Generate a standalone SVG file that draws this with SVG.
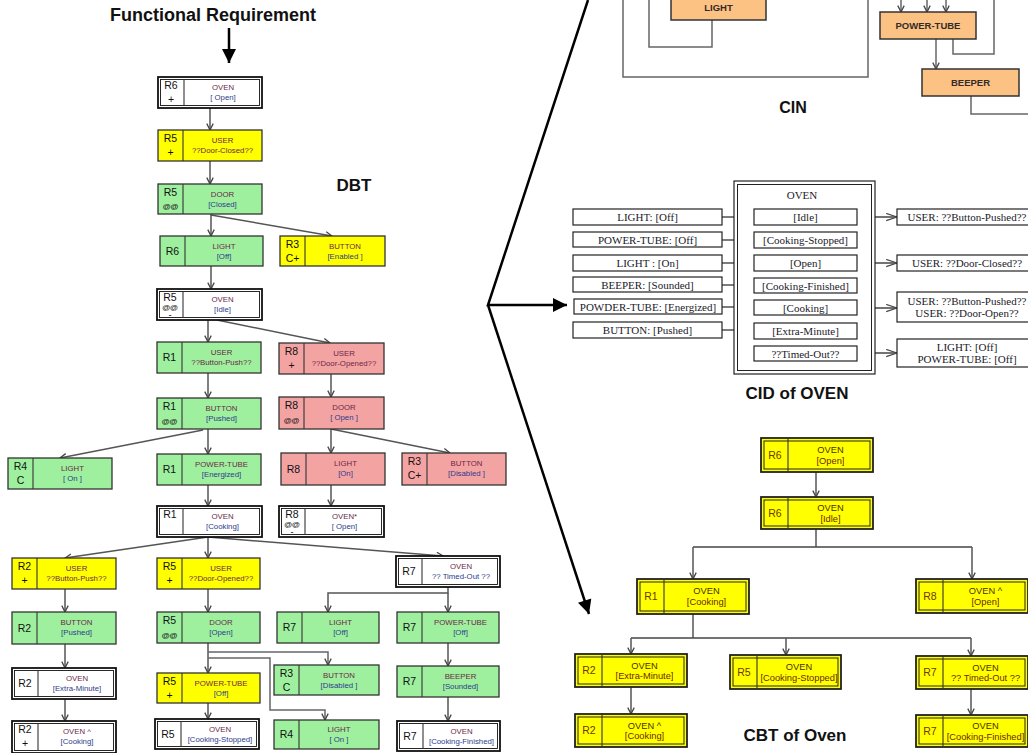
<svg xmlns="http://www.w3.org/2000/svg" width="1028" height="753" viewBox="0 0 1028 753">
<style>
.g{fill:#9ef09e;stroke:#333;stroke-width:1.3}
.y{fill:#ffff00;stroke:#333;stroke-width:1.3}
.p{fill:#f4a3a3;stroke:#333;stroke-width:1.3}
.wo{fill:#fff;stroke:#111;stroke-width:1.8}
.wi{fill:none;stroke:#111;stroke-width:0.9}
.dv{stroke:#333;stroke-width:1.1}
.r{font-family:"Liberation Sans",Arial,sans-serif;font-size:10.5px;fill:#111;text-anchor:middle}
.r2{font-family:"Liberation Sans",Arial,sans-serif;font-size:8px;font-weight:bold;fill:#222;text-anchor:middle}
.n{font-family:"Liberation Sans",Arial,sans-serif;font-size:7.8px;fill:#6a2848;text-anchor:middle}
.s{font-family:"Liberation Sans",Arial,sans-serif;font-size:7.8px;fill:#2c3c8c;text-anchor:middle}
.cy{fill:#ffff00;stroke:#222;stroke-width:1.8}
.ci{fill:none;stroke:#222;stroke-width:1}
.cn{font-family:"Liberation Sans",Arial,sans-serif;font-size:9.3px;fill:#4a3000;text-anchor:middle}
.cs{font-family:"Liberation Sans",Arial,sans-serif;font-size:9.3px;fill:#6a2a00;text-anchor:middle}
.cr{font-family:"Liberation Sans",Arial,sans-serif;font-size:10.5px;fill:#6a3a00;text-anchor:middle}
.o{fill:#fcc283;stroke:#333;stroke-width:1.5}
.ot{font-family:"Liberation Sans",Arial,sans-serif;font-size:9.5px;font-weight:bold;fill:#332a2a;text-anchor:middle}
.cb{fill:#fff;stroke:#222;stroke-width:1.2}
.ct{font-family:"Liberation Serif","Times New Roman",serif;font-size:11px;fill:#1a1a2a;text-anchor:middle}
.ttl{font-family:"Liberation Sans",Arial,sans-serif;font-weight:bold;fill:#111;text-anchor:middle}
.ln{stroke:#555;stroke-width:1.5;fill:none}
.lc{stroke:#444;stroke-width:1.4;fill:none}
.lg{stroke:#666;stroke-width:1.5;fill:none}
.big{stroke:#000;stroke-width:2.5;fill:none}
</style>
<defs>
<marker id="ah" viewBox="0 0 10 10" refX="9" refY="5" markerWidth="8" markerHeight="8" markerUnits="userSpaceOnUse" orient="auto"><path d="M1,1 L9,5 L1,9" fill="none" stroke="#444" stroke-width="1.6"/></marker>
<marker id="ahc" viewBox="0 0 14 10" refX="13" refY="5" markerWidth="13" markerHeight="9" markerUnits="userSpaceOnUse" orient="auto"><path d="M1,1 L13,5 L1,9" fill="none" stroke="#444" stroke-width="1.3"/></marker>
<marker id="ahb" viewBox="0 0 10 10" refX="10" refY="5" markerWidth="16" markerHeight="14" markerUnits="userSpaceOnUse" orient="auto"><path d="M0,0 L10,5 L0,10 Z" fill="#000"/></marker>
</defs>
<rect width="1028" height="753" fill="#fff"/>

<!-- Titles -->
<text class="ttl" x="213" y="21" font-size="18">Functional Requirement</text>
<text class="ttl" x="354" y="191" font-size="17">DBT</text>
<text class="ttl" x="793" y="113" font-size="16">CIN</text>
<text class="ttl" x="797" y="399" font-size="17">CID of OVEN</text>
<text class="ttl" x="795" y="741" font-size="17">CBT of Oven</text>

<!-- Connectors -->
<g id="connectors">
<line x1="229" y1="28" x2="229" y2="63" stroke="#000" stroke-width="2.5" marker-end="url(#ahb)"/>
<path class="big" d="M588,0 L488,305 L567,305" marker-end="url(#ahb)"/>
<path class="big" d="M488,305 L589,614" marker-end="url(#ahb)"/>

<!-- DBT -->
<path class="ln" d="M210,108 V130" marker-end="url(#ah)"/>
<path class="ln" d="M210,161 V184" marker-end="url(#ah)"/>
<path class="ln" d="M211,214 V236" marker-end="url(#ah)"/>
<path class="ln" d="M211,215 L332,236" marker-end="url(#ah)"/>
<path class="ln" d="M211,266 V289" marker-end="url(#ah)"/>
<path class="ln" d="M208,320 V342" marker-end="url(#ah)"/>
<path class="ln" d="M217,320 L330,343" marker-end="url(#ah)"/>
<path class="ln" d="M208,373 V398" marker-end="url(#ah)"/>
<path class="ln" d="M208,429 V454" marker-end="url(#ah)"/>
<path class="ln" d="M203,430 L60,458" marker-end="url(#ah)"/>
<path class="ln" d="M208,485 V506" marker-end="url(#ah)"/>
<path class="ln" d="M331,374 V397" marker-end="url(#ah)"/>
<path class="ln" d="M331,429 V453" marker-end="url(#ah)"/>
<path class="ln" d="M331,429 L450,453" marker-end="url(#ah)"/>
<path class="ln" d="M331,485 V506" marker-end="url(#ah)"/>
<path class="ln" d="M208,537 L65,558" marker-end="url(#ah)"/>
<path class="ln" d="M208,537 V558" marker-end="url(#ah)"/>
<path class="ln" d="M208,537 L443,556" marker-end="url(#ah)"/>
<path class="ln" d="M65,589 V612" marker-end="url(#ah)"/>
<path class="ln" d="M65,644 V668" marker-end="url(#ah)"/>
<path class="ln" d="M65,699 V721" marker-end="url(#ah)"/>
<path class="ln" d="M208,589 V612" marker-end="url(#ah)"/>
<path class="ln" d="M208,643 V673" marker-end="url(#ah)"/>
<path class="lg" d="M208,652 H328 V665" marker-end="url(#ah)"/>
<path class="lg" d="M208,658 H270 V710 H325 V720" marker-end="url(#ah)"/>
<path class="ln" d="M208,703 V719" marker-end="url(#ah)"/>
<path class="ln" d="M448,587 V593 H328 V612" marker-end="url(#ah)"/>
<path class="ln" d="M448,593 V612" marker-end="url(#ah)"/>
<path class="ln" d="M448,643 V666" marker-end="url(#ah)"/>
<path class="ln" d="M448,697 V721" marker-end="url(#ah)"/>

<!-- CIN -->
<path class="lg" d="M649,0 V47 H712 V20"/>
<path class="lg" d="M623,0 V77 H868 V0"/>
<path class="lg" d="M901,0 V12" marker-end="url(#ah)"/>
<path class="lg" d="M927,0 V12" marker-end="url(#ah)"/>
<path class="lg" d="M946,0 V12" marker-end="url(#ah)"/>
<path class="lg" d="M953,39 V54 H994 V0"/>
<path class="lg" d="M936,39 V69" marker-end="url(#ah)"/>
<path class="lg" d="M971,96 V114 H1028"/>

<!-- CID -->
<path class="lc" d="M722,217 H754" marker-end="url(#ahc)"/>
<path class="lc" d="M722,240 H754" marker-end="url(#ahc)"/>
<path class="lc" d="M722,263 H754" marker-end="url(#ahc)"/>
<path class="lc" d="M722,285 H754" marker-end="url(#ahc)"/>
<path class="lc" d="M722,307 H754" marker-end="url(#ahc)"/>
<path class="lc" d="M722,330 H754" marker-end="url(#ahc)"/>
<path class="lc" d="M857,217 H897" marker-end="url(#ahc)"/>
<path class="lc" d="M857,263 H897" marker-end="url(#ahc)"/>
<path class="lc" d="M857,308 H897" marker-end="url(#ahc)"/>
<path class="lc" d="M857,353 H897" marker-end="url(#ahc)"/>

<!-- CBT -->
<path class="ln" d="M816,472 V497" marker-end="url(#ah)"/>
<path class="ln" d="M816,529 V547"/>
<path class="lc" d="M693,547 H972"/>
<path class="ln" d="M693,547 V579" marker-end="url(#ah)"/>
<path class="ln" d="M972,547 V579" marker-end="url(#ah)"/>
<path class="ln" d="M693,614 V638"/>
<path class="lc" d="M631,638 H971"/>
<path class="ln" d="M631,638 V654" marker-end="url(#ah)"/>
<path class="ln" d="M786,638 V655" marker-end="url(#ah)"/>
<path class="ln" d="M971,638 V656" marker-end="url(#ah)"/>
<path class="ln" d="M631,687 V714" marker-end="url(#ah)"/>
<path class="ln" d="M971,689 V715" marker-end="url(#ah)"/>
</g>

<!-- DBT nodes -->
<g id="d1" transform="translate(158,77)"><rect class="wo" width="104" height="31"/><rect class="wi" x="2.5" y="2.5" width="99" height="26"/><line class="dv" x1="26" y1="2.5" x2="26" y2="28.5"/><text class="r" x="13" y="12">R6</text><text class="r" x="13" y="26">+</text><text class="n" x="65" y="13">OVEN</text><text class="s" x="65" y="22.5">[ Open]</text></g>
<g id="d2" transform="translate(158,130)"><rect class="y" width="104" height="31"/><line class="dv" x1="25" y1="0" x2="25" y2="31"/><text class="r" x="12.5" y="12">R5</text><text class="r" x="12.5" y="26">+</text><text class="n" x="64.5" y="13">USER</text><text class="n" x="64.5" y="22.5">??Door-Closed??</text></g>
<g id="d3" transform="translate(158,184)"><rect class="g" width="104" height="30"/><line class="dv" x1="25" y1="0" x2="25" y2="30"/><text class="r" x="12.5" y="12">R5</text><text class="r2" x="12.5" y="25">@@</text><text class="n" x="64.5" y="13">DOOR</text><text class="s" x="64.5" y="22.5">[Closed]</text></g>
<g id="d4" transform="translate(160,236)"><rect class="g" width="103" height="30"/><line class="dv" x1="25" y1="0" x2="25" y2="30"/><text class="r" x="12.5" y="19">R6</text><text class="n" x="64" y="13">LIGHT</text><text class="s" x="64" y="22.5">[Off]</text></g>
<g id="d5" transform="translate(280,236)"><rect class="y" width="105" height="30"/><line class="dv" x1="25" y1="0" x2="25" y2="30"/><text class="r" x="12.5" y="12">R3</text><text class="r" x="12.5" y="26">C+</text><text class="n" x="65" y="13">BUTTON</text><text class="s" x="65" y="22.5">[Enabled ]</text></g>
<g id="d6" transform="translate(157,289)"><rect class="wo" width="105" height="31"/><rect class="wi" x="2.5" y="2.5" width="100" height="26"/><line class="dv" x1="26" y1="2.5" x2="26" y2="28.5"/><text class="r" x="13" y="12">R5</text><text class="r2" x="13" y="21">@@</text><text class="r2" x="13" y="28">-</text><text class="n" x="65.5" y="13">OVEN</text><text class="s" x="65.5" y="22.5">[Idle]</text></g>
<g id="d7" transform="translate(157,342)"><rect class="g" width="104" height="31"/><line class="dv" x1="25" y1="0" x2="25" y2="31"/><text class="r" x="12.5" y="19">R1</text><text class="n" x="64.5" y="13">USER</text><text class="n" x="64.5" y="22.5">??Button-Push??</text></g>
<g id="d8" transform="translate(279,343)"><rect class="p" width="105" height="31"/><line class="dv" x1="25" y1="0" x2="25" y2="31"/><text class="r" x="12.5" y="12">R8</text><text class="r" x="12.5" y="26">+</text><text class="n" x="65" y="13">USER</text><text class="n" x="65" y="22.5">??Door-Opened??</text></g>
<g id="d9" transform="translate(157,398)"><rect class="g" width="104" height="31"/><line class="dv" x1="25" y1="0" x2="25" y2="31"/><text class="r" x="12.5" y="12">R1</text><text class="r2" x="12.5" y="26">@@</text><text class="n" x="64.5" y="13">BUTTON</text><text class="s" x="64.5" y="22.5">[Pushed]</text></g>
<g id="d10" transform="translate(279,397)"><rect class="p" width="105" height="32"/><line class="dv" x1="25" y1="0" x2="25" y2="32"/><text class="r" x="12.5" y="12">R8</text><text class="r2" x="12.5" y="26">@@</text><text class="n" x="65" y="13">DOOR</text><text class="s" x="65" y="22.5">[ Open ]</text></g>
<g id="d11" transform="translate(8,458)"><rect class="g" width="104" height="31"/><line class="dv" x1="25" y1="0" x2="25" y2="31"/><text class="r" x="12.5" y="12">R4</text><text class="r" x="12.5" y="26">C</text><text class="n" x="64.5" y="13">LIGHT</text><text class="s" x="64.5" y="22.5">[ On ]</text></g>
<g id="d12" transform="translate(157,454)"><rect class="g" width="104" height="31"/><line class="dv" x1="25" y1="0" x2="25" y2="31"/><text class="r" x="12.5" y="19">R1</text><text class="n" x="64.5" y="13">POWER-TUBE</text><text class="s" x="64.5" y="22.5">[Energized]</text></g>
<g id="d13" transform="translate(281,453)"><rect class="p" width="104" height="32"/><line class="dv" x1="25" y1="0" x2="25" y2="32"/><text class="r" x="12.5" y="20">R8</text><text class="n" x="64.5" y="13">LIGHT</text><text class="s" x="64.5" y="22.5">[On]</text></g>
<g id="d14" transform="translate(402,453)"><rect class="p" width="104" height="32"/><line class="dv" x1="25" y1="0" x2="25" y2="32"/><text class="r" x="12.5" y="12">R3</text><text class="r" x="12.5" y="26">C+</text><text class="n" x="64.5" y="13">BUTTON</text><text class="s" x="64.5" y="22.5">[Disabled ]</text></g>
<g id="d15" transform="translate(157,506)"><rect class="wo" width="105" height="31"/><rect class="wi" x="2.5" y="2.5" width="100" height="26"/><line class="dv" x1="26" y1="2.5" x2="26" y2="28.5"/><text class="r" x="13" y="12">R1</text><text class="n" x="65.5" y="13">OVEN</text><text class="s" x="65.5" y="22.5">[Cooking]</text></g>
<g id="d16" transform="translate(279,506)"><rect class="wo" width="105" height="31"/><rect class="wi" x="2.5" y="2.5" width="100" height="26"/><line class="dv" x1="26" y1="2.5" x2="26" y2="28.5"/><text class="r" x="13" y="12">R8</text><text class="r2" x="13" y="21">@@</text><text class="r2" x="13" y="28">-</text><text class="n" x="65.5" y="13">OVEN*</text><text class="s" x="65.5" y="22.5">[ Open]</text></g>
<g id="d17" transform="translate(12,558)"><rect class="y" width="104" height="31"/><line class="dv" x1="25" y1="0" x2="25" y2="31"/><text class="r" x="12.5" y="12">R2</text><text class="r" x="12.5" y="26">+</text><text class="n" x="64.5" y="13">USER</text><text class="n" x="64.5" y="22.5">??Button-Push??</text></g>
<g id="d18" transform="translate(157,558)"><rect class="y" width="103" height="31"/><line class="dv" x1="25" y1="0" x2="25" y2="31"/><text class="r" x="12.5" y="12">R5</text><text class="r" x="12.5" y="26">+</text><text class="n" x="64" y="13">USER</text><text class="n" x="64" y="22.5">??Door-Opened??</text></g>
<g id="d19" transform="translate(396,556)"><rect class="wo" width="104" height="31"/><rect class="wi" x="2.5" y="2.5" width="99" height="26"/><line class="dv" x1="26" y1="2.5" x2="26" y2="28.5"/><text class="r" x="13" y="19">R7</text><text class="n" x="65" y="13">OVEN</text><text class="s" x="65" y="22.5">?? Timed-Out ??</text></g>
<g id="d20" transform="translate(12,612)"><rect class="g" width="104" height="32"/><line class="dv" x1="25" y1="0" x2="25" y2="32"/><text class="r" x="12.5" y="20">R2</text><text class="n" x="64.5" y="13">BUTTON</text><text class="s" x="64.5" y="22.5">[Pushed]</text></g>
<g id="d21" transform="translate(157,612)"><rect class="g" width="103" height="31"/><line class="dv" x1="25" y1="0" x2="25" y2="31"/><text class="r" x="12.5" y="12">R5</text><text class="r2" x="12.5" y="26">@@</text><text class="n" x="64" y="13">DOOR</text><text class="s" x="64" y="22.5">[Open]</text></g>
<g id="d22" transform="translate(277,612)"><rect class="g" width="102" height="31"/><line class="dv" x1="25" y1="0" x2="25" y2="31"/><text class="r" x="12.5" y="19">R7</text><text class="n" x="63.5" y="13">LIGHT</text><text class="s" x="63.5" y="22.5">[Off]</text></g>
<g id="d23" transform="translate(397,612)"><rect class="g" width="102" height="31"/><line class="dv" x1="25" y1="0" x2="25" y2="31"/><text class="r" x="12.5" y="19">R7</text><text class="n" x="63.5" y="13">POWER-TUBE</text><text class="s" x="63.5" y="22.5">[Off]</text></g>
<g id="d24" transform="translate(12,668)"><rect class="wo" width="104" height="31"/><rect class="wi" x="2.5" y="2.5" width="99" height="26"/><line class="dv" x1="26" y1="2.5" x2="26" y2="28.5"/><text class="r" x="13" y="19">R2</text><text class="n" x="65" y="13">OVEN</text><text class="s" x="65" y="22.5">[Extra-Minute]</text></g>
<g id="d25" transform="translate(157,673)"><rect class="y" width="103" height="30"/><line class="dv" x1="25" y1="0" x2="25" y2="30"/><text class="r" x="12.5" y="12">R5</text><text class="r" x="12.5" y="26">+</text><text class="n" x="64" y="13">POWER-TUBE</text><text class="s" x="64" y="22.5">[Off]</text></g>
<g id="d26" transform="translate(274,665)"><rect class="g" width="105" height="30"/><line class="dv" x1="25" y1="0" x2="25" y2="30"/><text class="r" x="12.5" y="12">R3</text><text class="r" x="12.5" y="26">C</text><text class="n" x="65" y="13">BUTTON</text><text class="s" x="65" y="22.5">[Disabled ]</text></g>
<g id="d27" transform="translate(397,666)"><rect class="g" width="102" height="31"/><line class="dv" x1="25" y1="0" x2="25" y2="31"/><text class="r" x="12.5" y="19">R7</text><text class="n" x="63.5" y="13">BEEPER</text><text class="s" x="63.5" y="22.5">[Sounded]</text></g>
<g id="d28" transform="translate(12,721)"><rect class="wo" width="104" height="32"/><rect class="wi" x="2.5" y="2.5" width="99" height="27"/><line class="dv" x1="26" y1="2.5" x2="26" y2="29.5"/><text class="r" x="13" y="12">R2</text><text class="r" x="13" y="26">+</text><text class="n" x="65" y="13">OVEN ^</text><text class="s" x="65" y="22.5">[Cooking]</text></g>
<g id="d29" transform="translate(155,719)"><rect class="wo" width="104" height="30" stroke-width="2.4"/><rect class="wi" x="2.5" y="2.5" width="99" height="25"/><line class="dv" x1="26" y1="2.5" x2="26" y2="27.5"/><text class="r" x="13" y="19">R5</text><text class="n" x="65" y="13">OVEN</text><text class="s" x="65" y="22.5">[Cooking-Stopped]</text></g>
<g id="d30" transform="translate(274,720)"><rect class="g" width="105" height="29"/><line class="dv" x1="25" y1="0" x2="25" y2="29"/><text class="r" x="12.5" y="18">R4</text><text class="n" x="65" y="12">LIGHT</text><text class="s" x="65" y="21.5">[ On ]</text></g>
<g id="d31" transform="translate(397,721)"><rect class="wo" width="103" height="30"/><rect class="wi" x="2.5" y="2.5" width="98" height="25"/><line class="dv" x1="26" y1="2.5" x2="26" y2="27.5"/><text class="r" x="13" y="19">R7</text><text class="n" x="64.5" y="13">OVEN</text><text class="s" x="64.5" y="22.5">[Cooking-Finished]</text></g>

<!-- CIN nodes -->
<g id="cin-light"><rect class="o" x="671" y="-8" width="95" height="28"/><text class="ot" x="718.5" y="10.5">LIGHT</text></g>
<g id="cin-powertube"><rect class="o" x="880" y="12" width="96" height="27"/><text class="ot" x="928" y="29">POWER-TUBE</text></g>
<g id="cin-beeper"><rect class="o" x="922" y="69" width="97" height="27"/><text class="ot" x="970.5" y="86">BEEPER</text></g>

<!-- CID nodes -->
<g id="cid-oven"><rect x="734" y="181" width="141" height="193" fill="#fff" stroke="#222" stroke-width="1.2"/><rect x="737.5" y="184.5" width="134" height="186" fill="none" stroke="#222" stroke-width="1"/><text class="ct" x="802" y="199">OVEN</text></g>
<g id="cid-in1"><rect class="cb" x="573" y="209" width="149" height="16"/><text class="ct" x="647.5" y="221">LIGHT: [Off]</text></g>
<g id="cid-in2"><rect class="cb" x="573" y="232" width="149" height="15"/><text class="ct" x="647.5" y="243.5">POWER-TUBE: [Off]</text></g>
<g id="cid-in3"><rect class="cb" x="573" y="255" width="149" height="16"/><text class="ct" x="647.5" y="267">LIGHT : [On]</text></g>
<g id="cid-in4"><rect class="cb" x="573" y="277" width="149" height="15"/><text class="ct" x="647.5" y="288.5">BEEPER: [Sounded]</text></g>
<g id="cid-in5"><rect class="cb" x="574" y="299" width="148" height="15"/><text class="ct" x="648" y="310.5">POWDER-TUBE: [Energized]</text></g>
<g id="cid-in6"><rect class="cb" x="573" y="322" width="149" height="16"/><text class="ct" x="647.5" y="334">BUTTON: [Pushed]</text></g>
<g id="cid-s1"><rect class="cb" x="754" y="209" width="103" height="16"/><text class="ct" x="805.5" y="221">[Idle]</text></g>
<g id="cid-s2"><rect class="cb" x="754" y="232" width="103" height="16"/><text class="ct" x="805.5" y="244">[Cooking-Stopped]</text></g>
<g id="cid-s3"><rect class="cb" x="754" y="255" width="103" height="16"/><text class="ct" x="805.5" y="267">[Open]</text></g>
<g id="cid-s4"><rect class="cb" x="754" y="278" width="103" height="15"/><text class="ct" x="805.5" y="289.5">[Cooking-Finished]</text></g>
<g id="cid-s5"><rect class="cb" x="754" y="300" width="103" height="15"/><text class="ct" x="805.5" y="311.5">[Cooking]</text></g>
<g id="cid-s6"><rect class="cb" x="754" y="323" width="103" height="16"/><text class="ct" x="805.5" y="335">[Extra-Minute]</text></g>
<g id="cid-s7"><rect class="cb" x="754" y="346" width="103" height="15"/><text class="ct" x="805.5" y="357.5">??Timed-Out??</text></g>
<g id="cid-o1"><rect class="cb" x="897" y="209" width="140" height="16"/><text class="ct" x="967" y="221">USER: ??Button-Pushed??</text></g>
<g id="cid-o2"><rect class="cb" x="897" y="255" width="140" height="16"/><text class="ct" x="967" y="267">USER: ??Door-Closed??</text></g>
<g id="cid-o3"><rect class="cb" x="897" y="292" width="140" height="30"/><text class="ct" x="967" y="305">USER: ??Button-Pushed??</text><text class="ct" x="967" y="317">USER: ??Door-Open??</text></g>
<g id="cid-o4"><rect class="cb" x="897" y="339" width="140" height="28"/><text class="ct" x="967" y="351">LIGHT: [Off]</text><text class="ct" x="967" y="363">POWER-TUBE: [Off]</text></g>

<!-- CBT nodes -->
<g id="c1" transform="translate(761,438)"><rect class="cy" width="112" height="34"/><rect class="ci" x="3" y="3" width="106" height="28"/><line class="dv" x1="27" y1="0" x2="27" y2="34"/><text class="cr" x="14" y="21">R6</text><text class="cn" x="69.5" y="15">OVEN</text><text class="cs" x="69.5" y="25.5">[Open]</text></g>
<g id="c2" transform="translate(761,497)"><rect class="cy" width="112" height="32"/><rect class="ci" x="3" y="3" width="106" height="26"/><line class="dv" x1="27" y1="0" x2="27" y2="32"/><text class="cr" x="14" y="20">R6</text><text class="cn" x="69.5" y="14">OVEN</text><text class="cs" x="69.5" y="24.5">[Idle]</text></g>
<g id="c3" transform="translate(637,579)"><rect class="cy" width="112" height="35"/><rect class="ci" x="3" y="3" width="106" height="29"/><line class="dv" x1="27" y1="0" x2="27" y2="35"/><text class="cr" x="14" y="21">R1</text><text class="cn" x="69.5" y="15">OVEN</text><text class="cs" x="69.5" y="25.5">[Cooking]</text></g>
<g id="c4" transform="translate(916,579)"><rect class="cy" width="112" height="34"/><rect class="ci" x="3" y="3" width="106" height="28"/><line class="dv" x1="27" y1="0" x2="27" y2="34"/><text class="cr" x="14" y="21">R8</text><text class="cn" x="69.5" y="15">OVEN ^</text><text class="cs" x="69.5" y="25.5">[Open]</text></g>
<g id="c5" transform="translate(575,654)"><rect class="cy" width="112" height="33"/><rect class="ci" x="3" y="3" width="106" height="27"/><line class="dv" x1="27" y1="0" x2="27" y2="33"/><text class="cr" x="14" y="20">R2</text><text class="cn" x="69.5" y="14.5">OVEN</text><text class="cs" x="69.5" y="25">[Extra-Minute]</text></g>
<g id="c6" transform="translate(730,655)"><rect class="cy" width="111" height="34"/><rect class="ci" x="3" y="3" width="105" height="28"/><line class="dv" x1="27" y1="0" x2="27" y2="34"/><text class="cr" x="14" y="21">R5</text><text class="cn" x="69" y="15">OVEN</text><text class="cs" x="69" y="25.5">[Cooking-Stopped]</text></g>
<g id="c7" transform="translate(916,656)"><rect class="cy" width="112" height="33"/><rect class="ci" x="3" y="3" width="106" height="27"/><line class="dv" x1="27" y1="0" x2="27" y2="33"/><text class="cr" x="14" y="20">R7</text><text class="cn" x="69.5" y="14.5">OVEN</text><text class="cs" x="69.5" y="25">?? Timed-Out ??</text></g>
<g id="c8" transform="translate(575,714)"><rect class="cy" width="112" height="33"/><rect class="ci" x="3" y="3" width="106" height="27"/><line class="dv" x1="27" y1="0" x2="27" y2="33"/><text class="cr" x="14" y="20">R2</text><text class="cn" x="69.5" y="14.5">OVEN ^</text><text class="cs" x="69.5" y="25">[Cooking]</text></g>
<g id="c9" transform="translate(916,715)"><rect class="cy" width="112" height="32"/><rect class="ci" x="3" y="3" width="106" height="26"/><line class="dv" x1="27" y1="0" x2="27" y2="32"/><text class="cr" x="14" y="20">R7</text><text class="cn" x="69.5" y="14">OVEN</text><text class="cs" x="69.5" y="24.5">[Cooking-Finished]</text></g>
</svg>
